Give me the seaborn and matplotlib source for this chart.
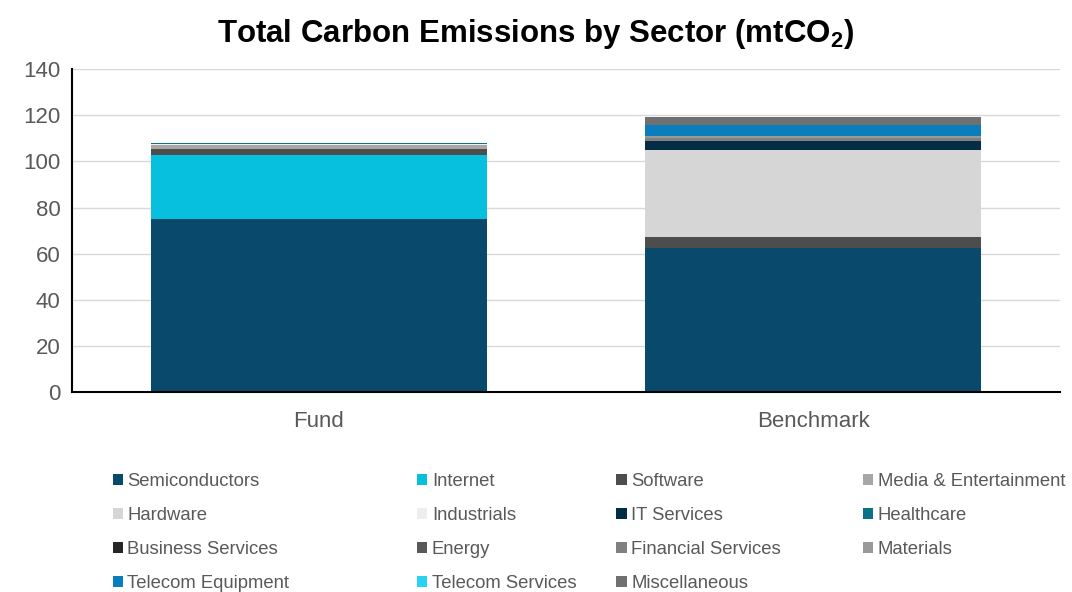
import numpy as np
import pandas as pd
import matplotlib
matplotlib.use("Agg")
import matplotlib.pyplot as plt
import seaborn as sns

# -----------------------------
# DATA
# -----------------------------
portfolios = ["Fund", "Benchmark"]
sectors = ["Semiconductors", "Internet", "Software", "Media & Entertainment",
           "Hardware", "Industrials", "IT Services", "Healthcare",
           "Business Services", "Energy", "Financial Services", "Materials",
           "Telecom Equipment", "Telecom Services", "Miscellaneous"]
fund_values = [75.0, 28.0, 2.6, 1.4, 0.3, 0.2, 0.1, 0.5, 0, 0, 0, 0, 0, 0, 0]
benchmark_values = [62.5, 0, 4.5, 0, 38.0, 0, 4.0, 0, 0, 0, 1.2, 0.8, 5.0, 0, 3.3]
sector_colors = ["#08496C", "#06C0DE", "#4D4D4D", "#A6A6A6",
                 "#D6D6D6", "#EEEEEE", "#022D44", "#0B7285",
                 "#262626", "#595959", "#808080", "#999999",
                 "#0A7DBD", "#27D3F0", "#707070"]
y_ticks = [0, 20, 40, 60, 80, 100, 120, 140]

# -----------------------------
# PLOT
# -----------------------------
sns.set_style("white")
plt.rcParams['font.family'] = ['Liberation Sans', 'DejaVu Sans']
plt.rcParams['mathtext.default'] = 'regular'

fig = plt.figure(figsize=(10.72, 5.92), dpi=100)
ax = fig.add_axes([0.067, 0.338, 0.922, 0.545])

bottom = np.zeros(len(portfolios))
for i, sector in enumerate(sectors):
    vals = np.array([fund_values[i], benchmark_values[i]])
    df = pd.DataFrame({"portfolio": portfolios, "value": vals})
    sns.barplot(data=df, x="portfolio", y="value", ax=ax, color=sector_colors[i],
                saturation=1, width=0.68, bottom=bottom, linewidth=0, label=sector,
                errorbar=None)
    bottom = bottom + vals

handles, labels = ax.get_legend_handles_labels()
if ax.get_legend() is not None:
    ax.get_legend().remove()

ax.set_xlim(-0.5, 1.5)
ax.set_ylim(0, 140)
ax.set_yticks(y_ticks)
ax.set_xlabel("")
ax.set_ylabel("")
ax.yaxis.grid(True, color="#D9D9D9", linewidth=1)
ax.set_axisbelow(True)
for s in ["top", "right"]:
    ax.spines[s].set_visible(False)
for s in ["left", "bottom"]:
    ax.spines[s].set_color("black")
    ax.spines[s].set_linewidth(1.5)
ax.tick_params(axis="both", labelsize=16, colors="#595959", length=0, pad=8)
ax.tick_params(axis="x", pad=14)

fig.text(0.5, 0.942, "Total Carbon Emissions by Sector (mtCO$_2$)", ha="center", va="center",
         fontsize=22.5, fontweight="bold", color="black")

# legend laid out in 4 columns, row by row
col_x = [0.105, 0.389, 0.575, 0.805]
for c in range(4):
    idx = list(range(c, len(sectors), 4))
    fig.legend([handles[k] for k in idx], [labels[k] for k in idx],
               loc="upper left", bbox_to_anchor=(col_x[c], 0.201), frameon=False,
               fontsize=13.3, labelcolor="#595959", handlelength=0.55, handleheight=0.55,
               handletextpad=0.25, labelspacing=0.92, borderaxespad=0, borderpad=0)

plt.savefig("out.png", dpi=100)
plt.close()
